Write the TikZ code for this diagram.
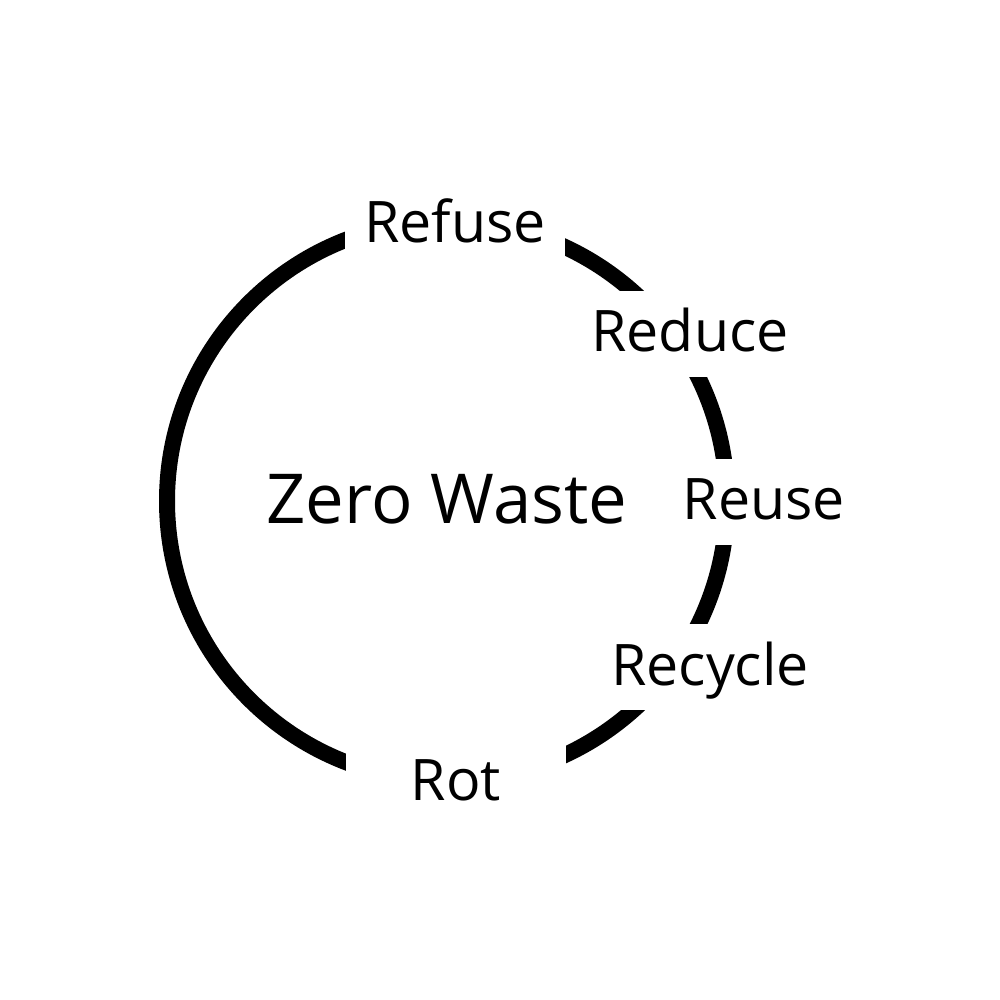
\documentclass[tikz,border=0pt]{standalone}
\usepackage{fontspec}
\setmainfont{Open Sans}
\usetikzlibrary{positioning}

\begin{document}
\begin{tikzpicture}[
  ring/.style={draw,line width=0.16cm},
  step label/.style={fill=white,inner sep=0pt,minimum width=2.2cm,
              text height=0.61cm,text depth=0.25cm,anchor=base,
              font=\fontsize{16.3}{19}\selectfont},
  title/.style={anchor=base,font=\fontsize{19.6}{24}\selectfont}]
\useasboundingbox (0,0) rectangle (10,-10);
\coordinate (c) at (4.47,-5.01);
\draw[ring] (c) circle (2.8);
\node[step label] (refuse) at (4.55,-2.43) {Refuse};
\node[step label] (reduce) at (6.90,-3.52) {Reduce};
\node[step label] (reuse) at (7.64,-5.20) {Reuse};
\node[step label] (recycle) at (7.10,-6.85) {Recycle};
\node[step label] (rot) at (4.56,-8.00) {Rot};
\node[title] (zw) at (4.47,-5.23) {Zero Waste};
\end{tikzpicture}
\end{document}
